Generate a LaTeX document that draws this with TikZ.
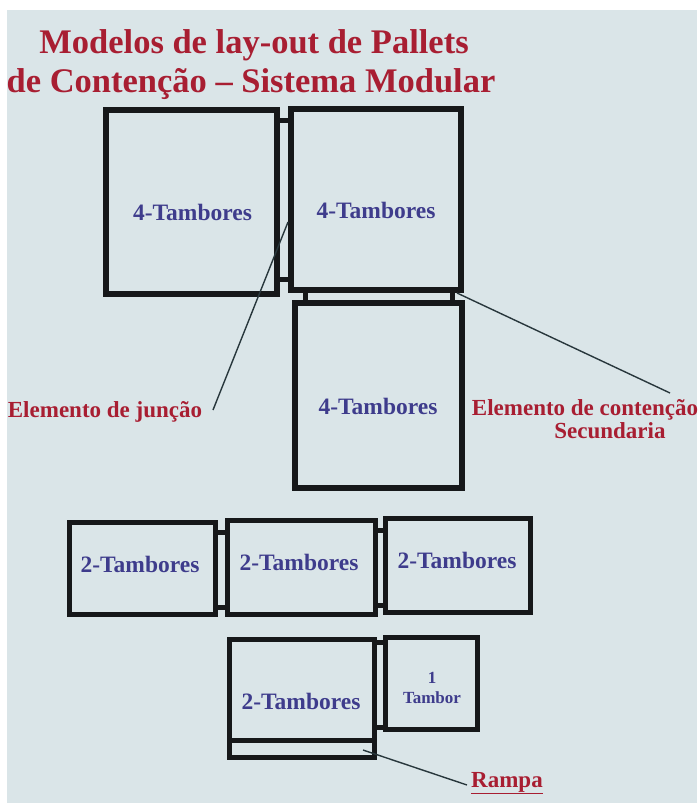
\documentclass[tikz,border=0pt]{standalone}
\usepackage{fontspec}
\setmainfont{Liberation Serif}
\definecolor{bg}{RGB}{218,229,232}
\definecolor{tred}{RGB}{168,30,50}
\definecolor{tblue}{RGB}{62,60,140}
\definecolor{edge}{RGB}{22,24,26}
\definecolor{lead}{RGB}{40,55,60}
\begin{document}
\begin{tikzpicture}[x=1pt,y=-1pt,
  pallet/.style={draw=edge, line width=6pt, rectangle, inner sep=0pt, outer sep=0pt},
  pallet2/.style={draw=edge, line width=5pt, rectangle, inner sep=0pt, outer sep=0pt},
  joint/.style={draw=edge, line width=5pt},
  leader/.style={draw=lead, line width=1.4pt},
  title/.style={text=tred, font=\fontsize{34.5}{34}\selectfont\bfseries, anchor=base, inner sep=0pt},
  redlbl/.style={text=tred, font=\fontsize{23}{23}\selectfont\bfseries, anchor=base, inner sep=0pt},
  bluelbl/.style={text=tblue, font=\fontsize{23.5}{23}\selectfont\bfseries, anchor=base, inner sep=0pt},
  smalllbl/.style={text=tblue, font=\fontsize{17}{17}\selectfont\bfseries, anchor=base, inner sep=0pt}]
\useasboundingbox (0,0) rectangle (697,803);
\fill[bg] (0,0) rectangle (697,803);
\fill[white] (0,0) rectangle (697,10);
\fill[white] (0,0) rectangle (7,803);

% title
\node[title] (t1) at (254,53) {Modelos de lay-out de Pallets};
\node[title] (t2) at (251,92) {de Contenção – Sistema Modular};

% 4-drum pallets
\node[pallet, minimum width=171pt, minimum height=184pt] (tl) at (191.5,202) {};
\node[pallet, minimum width=170pt, minimum height=181pt] (tr) at (376,199.5) {};
\node[pallet, minimum width=167pt, minimum height=185pt] (mid) at (378.5,395.5) {};
\draw[joint] (277,120) rectangle (291,279);
\draw[joint] (305,290) rectangle (452,303);
\node[bluelbl] (ltl) at (192.5,220) {4-Tambores};
\node[bluelbl] (ltr) at (376,218) {4-Tambores};
\node[bluelbl] (lmid) at (378,414) {4-Tambores};

% 2-drum row
\node[pallet2, minimum width=146pt, minimum height=92pt] (a) at (142.5,568.5) {};
\node[pallet2, minimum width=148pt, minimum height=94pt] (b) at (301.5,567.5) {};
\node[pallet2, minimum width=145pt, minimum height=94pt] (c) at (458,565.5) {};
\draw[joint] (a.east |- 0,532) rectangle (b.west |- 0,607);
\draw[joint] (b.east |- 0,530) rectangle (c.west |- 0,605);
\node[bluelbl] (la) at (140,572) {2-Tambores};
\node[bluelbl] (lb) at (299,570) {2-Tambores};
\node[bluelbl] (lc) at (457,568) {2-Tambores};

% bottom group
\node[pallet2, minimum width=145pt, minimum height=100.5pt] (d) at (302,689.75) {};
\node[pallet2, minimum width=145pt, minimum height=17.5pt] (ramp) at (302,748.75) {};
\node[pallet2, minimum width=92pt, minimum height=92pt] (e) at (431.5,683.5) {};
\draw[joint] (d.east |- 0,642) rectangle (e.west |- 0,727);
\node[bluelbl] (ld) at (301,709) {2-Tambores};
\node[smalllbl] (le1) at (432,683) {1};
\node[smalllbl] (le2) at (432,703) {Tambor};

% callouts
\node[redlbl] (junc) at (105,417) {Elemento de junção};
\node[redlbl] (cont) at (585,415) {Elemento de contenção};
\node[redlbl] (sec) at (610,438) {Secundaria};
\node[redlbl] (rampa) at (507,787) {\underline{Rampa}};

\coordinate (pj) at (288,222);
\coordinate (pjl) at (213,410);
\coordinate (pc) at (457,293);
\coordinate (pcl) at (670,393);
\coordinate (pr) at (363,750);
\coordinate (prl) at (467,785);
\draw[leader] (pjl) -- (pj);
\draw[leader] (pc) -- (pcl);
\draw[leader] (pr) -- (prl);
\end{tikzpicture}
\end{document}
